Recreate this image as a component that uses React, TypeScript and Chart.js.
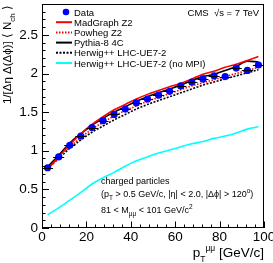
import React, { useEffect, useRef } from "react";
import { Chart, registerables } from "chart.js";

Chart.register(...registerables);

const binCenters = [2.5, 7.5, 12.5, 17.5, 22.5, 27.5, 32.5, 37.5, 42.5, 47.5, 52.5, 57.5, 62.5, 67.5, 72.5, 77.5, 82.5, 87.5, 92.5, 97.5];
const dataValues = [0.78, 0.92, 1.07, 1.19, 1.30, 1.39, 1.47, 1.54, 1.62, 1.67, 1.72, 1.77, 1.84, 1.89, 1.93, 1.97, 1.96, 2.07, 2.04, 2.11];
const madgraphZ2 = [0.76, 0.92, 1.08, 1.22, 1.34, 1.44, 1.53, 1.60, 1.67, 1.73, 1.78, 1.83, 1.87, 1.93, 1.99, 2.03, 2.08, 2.12, 2.17, 2.22];
const powhegZ2 = [0.77, 0.91, 1.05, 1.17, 1.28, 1.37, 1.45, 1.52, 1.58, 1.64, 1.69, 1.74, 1.79, 1.84, 1.88, 1.92, 1.96, 2.00, 2.04, 2.08];
const pythia8 = [0.79, 0.94, 1.10, 1.22, 1.33, 1.42, 1.50, 1.57, 1.64, 1.70, 1.75, 1.80, 1.85, 1.91, 1.96, 1.99, 2.04, 2.09, 2.16, 2.15];
const herwigUE = [0.77, 0.90, 1.03, 1.14, 1.24, 1.32, 1.40, 1.47, 1.54, 1.60, 1.65, 1.70, 1.75, 1.80, 1.85, 1.89, 1.93, 1.97, 2.01, 2.05];
const herwigNoMPI = [0.17, 0.26, 0.36, 0.46, 0.57, 0.65, 0.72, 0.80, 0.87, 0.92, 0.97, 1.01, 1.05, 1.09, 1.12, 1.16, 1.19, 1.23, 1.28, 1.31];
const binHalfWidth = 2.5;

const legendLabels = ["Data", "MadGraph Z2", "Powheg Z2", "Pythia-8 4C", "Herwig++ LHC-UE7-2", "Herwig++ LHC-UE7-2 (no MPI)"];
const FONT = "'Liberation Sans', Arial, Helvetica, sans-serif";

type Seg = { t: string; dy?: number; s?: number };

function drawRich(ctx: CanvasRenderingContext2D, segs: Seg[], x: number, y: number, size: number, align: "left" | "right" = "left") {
  let total = 0;
  for (const sg of segs) {
    ctx.font = `${sg.s ?? size}px ${FONT}`;
    total += ctx.measureText(sg.t).width;
  }
  let cx = align === "right" ? x - total : x;
  ctx.textAlign = "left";
  ctx.textBaseline = "alphabetic";
  for (const sg of segs) {
    ctx.font = `${sg.s ?? size}px ${FONT}`;
    ctx.fillText(sg.t, cx, y + (sg.dy ?? 0));
    cx += ctx.measureText(sg.t).width;
  }
}

const isMultiple = (v: number, step: number) => Math.abs(v / step - Math.round(v / step)) < 1e-6;

const rootPlugin = {
  id: "rootStyle",
  afterDatasetsDraw(chart: any) {
    const ctx: CanvasRenderingContext2D = chart.ctx;
    const xs = chart.scales.x;
    const ys = chart.scales.y;
    ctx.save();
    ctx.strokeStyle = "#000";
    ctx.lineWidth = 1;
    binCenters.forEach((c, i) => {
      const py = Math.round(ys.getPixelForValue(dataValues[i])) + 0.5;
      ctx.beginPath();
      ctx.moveTo(xs.getPixelForValue(c - binHalfWidth), py);
      ctx.lineTo(xs.getPixelForValue(c + binHalfWidth), py);
      ctx.stroke();
    });
    ctx.restore();
  },
  afterDraw(chart: any) {
    const ctx: CanvasRenderingContext2D = chart.ctx;
    const a = chart.chartArea;
    const xs = chart.scales.x;
    const ys = chart.scales.y;
    ctx.save();
    ctx.strokeStyle = "#000";
    ctx.lineWidth = 1;
    ctx.strokeRect(Math.round(a.left) + 0.5, Math.round(a.top) + 0.5, Math.round(a.right - a.left) - 1, Math.round(a.bottom - a.top) - 1);

    const yStep = 0.5;
    const xStep = 20;
    const yMajor = ys.ticks.map((t: any) => t.value).filter((v: number) => isMultiple(v, yStep));
    const xMajor = xs.ticks.map((t: any) => t.value).filter((v: number) => isMultiple(v, xStep));
    ctx.beginPath();
    yMajor.forEach((v0: number) => {
      const py = Math.round(ys.getPixelForValue(v0)) + 0.5;
      ctx.moveTo(a.left, py);
      ctx.lineTo(a.left + 7, py);
      for (let k = 1; k < 5; k++) {
        const v = v0 + (yStep * k) / 5;
        if (v > ys.max + 1e-9) break;
        const p = Math.round(ys.getPixelForValue(v)) + 0.5;
        ctx.moveTo(a.left, p);
        ctx.lineTo(a.left + 3.5, p);
      }
    });
    xMajor.forEach((v0: number) => {
      const px = Math.round(xs.getPixelForValue(v0)) + 0.5;
      ctx.moveTo(px, a.bottom);
      ctx.lineTo(px, a.bottom - 6.5);
      for (let k = 1; k < 5; k++) {
        const v = v0 + (xStep * k) / 5;
        if (v > xs.max + 1e-9) break;
        const p = Math.round(xs.getPixelForValue(v)) + 0.5;
        ctx.moveTo(p, a.bottom);
        ctx.lineTo(p, a.bottom - 3.5);
      }
    });
    ctx.stroke();

    ctx.fillStyle = "#000";
    ctx.font = `13.5px ${FONT}`;
    ctx.textAlign = "right";
    ctx.textBaseline = "middle";
    yMajor.forEach((v: number) => {
      ctx.fillText(String(v), a.left - 4, ys.getPixelForValue(v));
    });
    ctx.textAlign = "center";
    ctx.textBaseline = "top";
    xMajor.forEach((v: number) => {
      ctx.fillText(String(v), xs.getPixelForValue(v), a.bottom + 3);
    });

    drawRich(ctx, [
      { t: "p" },
      { t: "T", dy: 5, s: 8.5 },
      { t: "μμ", dy: -6, s: 8.5 },
      { t: " [GeV/c]" },
    ], a.right, 257, 13.5, "right");

    ctx.save();
    ctx.translate(11, a.top + 1);
    ctx.rotate(-Math.PI / 2);
    drawRich(ctx, [
      { t: "1/[Δη Δ(Δϕ)] ⟨ N" },
      { t: "ch", dy: 3.5, s: 8 },
      { t: " ⟩" },
    ], 0, 0, 11.5, "right");
    ctx.restore();

    drawRich(ctx, [{ t: "CMS  √s = 7 TeV" }], 259, 16, 9.5, "right");

    const lx0 = 56, lx1 = 72, tx = 74, ly0 = 12, dly = 10.2;
    const styles = [
      { type: "point", color: "#0000ff" },
      { type: "line", color: "#ff0000", dash: [] as number[] },
      { type: "line", color: "#ff0000", dash: [1.5, 1.5] },
      { type: "line", color: "#000000", dash: [] as number[] },
      { type: "line", color: "#000000", dash: [2, 1.5] },
      { type: "line", color: "#00ffff", dash: [] as number[] },
    ];
    legendLabels.forEach((lab, i) => {
      const y = ly0 + i * dly;
      const st: any = styles[i];
      if (st.type === "point") {
        ctx.fillStyle = st.color;
        ctx.beginPath();
        ctx.arc(66, y, 3.3, 0, Math.PI * 2);
        ctx.fill();
      } else {
        ctx.strokeStyle = st.color;
        ctx.lineWidth = 2;
        ctx.setLineDash(st.dash);
        ctx.beginPath();
        ctx.moveTo(lx0, y);
        ctx.lineTo(lx1, y);
        ctx.stroke();
        ctx.setLineDash([]);
      }
      ctx.fillStyle = "#000";
      drawRich(ctx, [{ t: lab }], tx, y + 3.5, 9.5);
    });

    ctx.fillStyle = "#000";
    drawRich(ctx, [{ t: "charged particles" }], 101, 184, 9);
    drawRich(ctx, [
      { t: "(p" },
      { t: "T", dy: 3, s: 6.5 },
      { t: " > 0.5 GeV/c, |η| < 2.0, |Δϕ| > 120" },
      { t: "o", dy: -4, s: 6.5 },
      { t: ")" },
    ], 101, 197, 9);
    drawRich(ctx, [
      { t: "81 < M" },
      { t: "μμ", dy: 3, s: 6.5 },
      { t: " < 101 GeV/c" },
      { t: "2", dy: -4, s: 6.5 },
    ], 101, 213, 9);
    ctx.restore();
  },
};

export default function App() {
  const ref = useRef<HTMLCanvasElement | null>(null);
  useEffect(() => {
    if (!ref.current) return;
    const mk = (vals: number[]) => binCenters.map((x, i) => ({ x, y: vals[i] }));
    const lineDs = (label: string, vals: number[], color: string, dash: number[]) => ({
      label,
      data: mk(vals),
      showLine: true,
      borderColor: color,
      backgroundColor: color,
      borderWidth: 1.6,
      borderDash: dash,
      pointRadius: 0,
      cubicInterpolationMode: "monotone" as const,
      fill: false,
    });
    const chart = new Chart(ref.current, {
      type: "scatter",
      data: {
        datasets: [
          {
            label: "Data",
            data: mk(dataValues),
            showLine: false,
            pointRadius: 3.6,
            pointBackgroundColor: "#0000ff",
            pointBorderColor: "#0000ff",
            pointBorderWidth: 0,
            order: 0,
          } as any,
          { ...lineDs("Herwig++ LHC-UE7-2 (no MPI)", herwigNoMPI, "#00ffff", []), order: 5 },
          { ...lineDs("Herwig++ LHC-UE7-2", herwigUE, "#000000", [2, 1.5]), order: 4 },
          { ...lineDs("Pythia-8 4C", pythia8, "#000000", []), order: 3 },
          { ...lineDs("Powheg Z2", powhegZ2, "#ff0000", [1.5, 1.5]), order: 2 },
          { ...lineDs("MadGraph Z2", madgraphZ2, "#ff0000", []), order: 1 },
        ],
      },
      options: {
        animation: false,
        responsive: false,
        maintainAspectRatio: false,
        devicePixelRatio: 1,
        layout: { padding: { left: 42, right: 9, top: 1, bottom: 35 } },
        plugins: { legend: { display: false }, tooltip: { enabled: false } },
        scales: {
          x: { type: "linear", min: 0, max: 100, display: false, ticks: { stepSize: 20 } },
          y: { type: "linear", min: 0, max: 2.9, display: false, ticks: { stepSize: 0.5 } },
        },
      },
      plugins: [rootPlugin],
    });
    return () => chart.destroy();
  }, []);
  return (
    <div style={{ position: "fixed", left: 0, top: 0, width: 273, height: 263, background: "#fff" }}>
      <canvas ref={ref} width={273} height={263} style={{ width: 273, height: 263, display: "block" }} />
    </div>
  );
}
